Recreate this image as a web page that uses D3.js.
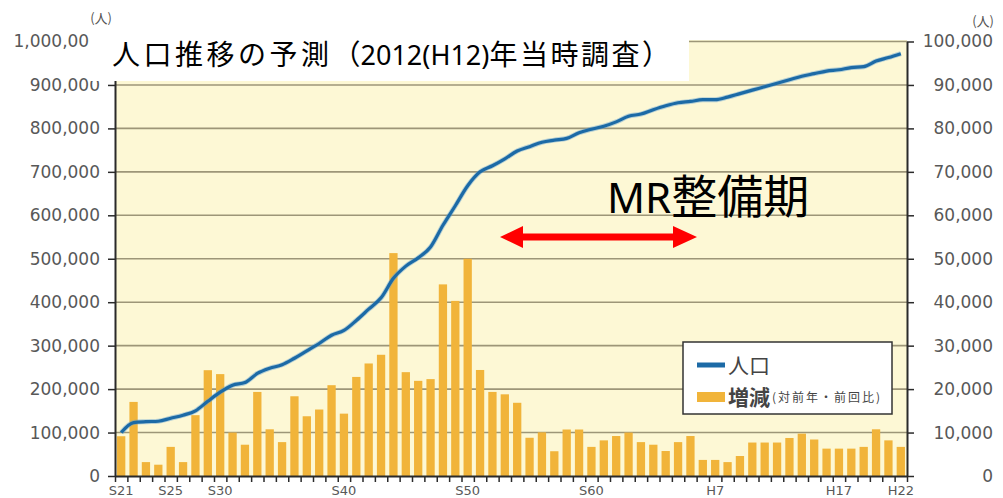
<!DOCTYPE html>
<html>
<head>
<meta charset="utf-8">
<script src="https://cdn.jsdelivr.net/npm/d3@7.9.0/dist/d3.min.js"></script>
<style>
  html, body { margin: 0; padding: 0; background: #fff; }
  svg { display: block; }
</style>
</head>
<body>
<svg id="chart" width="1003" height="498"></svg>
<script>
// categories: one bar per survey year (Showa / Heisei)
const years = [
  'S21', 'S22', 'S23', 'S24', 'S25', 'S26', 'S27', 'S28',
  'S30', 'S31', 'S32', 'S33', 'S34', 'S35', 'S36', 'S37', 'S38', 'S39',
  'S40', 'S41', 'S42', 'S43', 'S44', 'S45', 'S46', 'S47', 'S48', 'S49',
  'S50', 'S51', 'S52', 'S53', 'S54', 'S55', 'S56', 'S57', 'S58', 'S59',
  'S60', 'S61', 'S62', 'S63', 'H1', 'H2', 'H3', 'H4', 'H5', 'H6',
  'H7', 'H8', 'H9', 'H10', 'H11', 'H12', 'H13', 'H14', 'H15', 'H16',
  'H17', 'H18', 'H19', 'H20', 'H21', 'H22'
];

// population (left axis)
const population = [
  100000, 123000, 125000, 126000, 133000, 140000, 150000, 172000,
  193000, 209000, 215000, 236000, 248000, 256000, 271000, 288000, 305000, 324000,
  335000, 358000, 384000, 410000, 455000, 483000, 502000, 527000, 577000, 622000,
  668000, 700000, 714000, 730000, 748000, 758000, 768000, 773000, 777000, 790000,
  798000, 805000, 815000, 828000, 833000, 843000, 852000, 859000, 862000, 866000,
  866000, 872000, 880000, 888000, 896000, 904000, 912000, 920000, 926000, 932000,
  935000, 940000, 942000, 955000, 963000, 972000
];

// change from previous year / previous census (right axis)
const change = [
  9150, 17050, 3200, 2600, 6700, 3200, 14000, 24350,
  23450, 10000, 7200, 19350, 10750, 7800, 18350, 13750, 15300, 20900,
  14350, 22800, 25900, 27900, 51300, 23900, 21900, 22300, 44100, 40300,
  50000, 24400, 19350, 18800, 16850, 8800, 10050, 5700, 10700, 10700,
  6700, 8200, 9200, 10000, 7800, 7200, 5750, 7800, 9200, 3700,
  3700, 3200, 4600, 7700, 7700, 7700, 8750, 9750, 8400, 6300,
  6300, 6300, 6700, 10750, 8200, 6700
];

const xLabels = ['S21', 'S25', 'S30', 'S40', 'S50', 'S60', 'H7', 'H17', 'H22'];
const leftTicks = d3.range(0, 1000001, 100000);
const rightTicks = d3.range(0, 100001, 10000);

const svg = d3.select('#chart');
const plotL = 115, plotR = 907, plotT = 41.5, plotB = 476;
const sans = 'DejaVu Sans, Verdana, sans-serif';
const cjk = '"Noto Sans CJK JP", sans-serif';

const x = d3.scaleBand().domain(years).range([plotL, plotR])
  .paddingInner(0.33).paddingOuter(0.165);
const xTick = d3.scaleLinear().domain([0, years.length]).range([plotL, plotR]);
const yL = d3.scaleLinear().domain([0, 1000000]).range([plotB, plotT]);
const yR = d3.scaleLinear().domain([0, 100000]).range([plotB, plotT]);
const cx = (d) => x(d) + x.bandwidth() / 2;

// plot background
svg.append('rect')
  .attr('x', plotL).attr('y', plotT - 1.5)
  .attr('width', plotR - plotL).attr('height', plotB - plotT + 1.5)
  .attr('fill', '#fdf8d5');

// gridlines
svg.append('g').selectAll('line')
  .data(leftTicks.slice(1))
  .join('line')
  .attr('x1', plotL).attr('x2', plotR)
  .attr('y1', (d) => yL(d)).attr('y2', (d) => yL(d))
  .attr('stroke', '#9d9678').attr('stroke-width', 1.6);

// bars
svg.append('g').selectAll('rect')
  .data(years)
  .join('rect')
  .attr('x', (d) => x(d))
  .attr('width', x.bandwidth())
  .attr('y', (d, i) => yR(change[i]))
  .attr('height', (d, i) => plotB - yR(change[i]))
  .attr('fill', '#f1b43a');

// population line
const line = d3.line()
  .x((d, i) => cx(years[i]))
  .y((d) => yL(d))
  .curve(d3.curveMonotoneX);

svg.append('path')
  .datum(population)
  .attr('d', line)
  .attr('fill', 'none')
  .attr('stroke', '#5f9fd2')
  .attr('stroke-width', 5)
  .attr('stroke-opacity', 0.45);
svg.append('path')
  .datum(population)
  .attr('d', line)
  .attr('fill', 'none')
  .attr('stroke', '#1c6aa6')
  .attr('stroke-width', 3.2);

// axes
function styleAxis(g) {
  g.select('.domain').attr('stroke', '#2a2a2a').attr('stroke-width', 2);
  g.selectAll('.tick line').attr('stroke', '#2a2a2a').attr('stroke-width', 1.5);
  g.selectAll('text').attr('fill', '#585858').attr('font-family', sans).attr('font-size', 17);
}

svg.append('g')
  .attr('transform', `translate(${plotL},0)`)
  .call(d3.axisLeft(yL).tickValues(leftTicks).tickFormat(d3.format(','))
    .tickSize(7).tickSizeOuter(0).tickPadding(8))
  .call(styleAxis);

const gR = svg.append('g')
  .attr('transform', `translate(${plotR},0)`)
  .call(d3.axisRight(yR).tickValues(rightTicks).tickFormat(d3.format(','))
    .tickSize(7).tickSizeOuter(0).tickPadding(8))
  .call(styleAxis);
gR.selectAll('text').attr('text-anchor', 'end').attr('x', 993 - plotR);

svg.append('g')
  .attr('transform', `translate(0,${plotB})`)
  .call(d3.axisBottom(xTick).tickValues(d3.range(years.length + 1))
    .tickFormat('').tickSize(6).tickSizeOuter(0))
  .call(styleAxis);

svg.append('g').selectAll('text')
  .data(xLabels)
  .join('text')
  .attr('x', (d) => cx(d))
  .attr('y', 495)
  .attr('text-anchor', 'middle')
  .attr('font-family', sans)
  .attr('font-size', 13)
  .attr('fill', '#585858')
  .text((d) => d);

// unit labels
svg.append('text').attr('x', 112).attr('y', 23).attr('text-anchor', 'end')
  .attr('font-family', cjk).attr('font-size', 13).attr('fill', '#555').text('(人)');
svg.append('text').attr('x', 994).attr('y', 26).attr('text-anchor', 'end')
  .attr('font-family', cjk).attr('font-size', 13).attr('fill', '#555').text('(人)');

// MR period annotation
const mr = svg.append('text').attr('x', 607).attr('y', 213).attr('fill', '#000');
mr.append('tspan').attr('font-family', 'Noto Sans, sans-serif').attr('font-size', 42).text('MR');
mr.append('tspan').attr('font-family', cjk).attr('font-size', 46).text('整備期');

const ay = 237;
svg.append('path')
  .attr('d', `M500,${ay} L523,${ay - 11} L523,${ay - 3.5} L673,${ay - 3.5} L673,${ay - 11}
              L697,${ay} L673,${ay + 11} L673,${ay + 3.5} L523,${ay + 3.5} L523,${ay + 11} Z`)
  .attr('fill', '#ff0000');

// legend
const lg = svg.append('g');
lg.append('rect').attr('x', 683).attr('y', 342).attr('width', 209).attr('height', 72)
  .attr('fill', '#fff').attr('stroke', '#333').attr('stroke-width', 1.5);
lg.append('line').attr('x1', 697).attr('x2', 725).attr('y1', 365).attr('y2', 365)
  .attr('stroke', '#1c6aa6').attr('stroke-width', 5);
lg.append('text').attr('x', 728).attr('y', 373).attr('font-family', cjk)
  .attr('font-size', 21).attr('fill', '#444').text('人口');
lg.append('rect').attr('x', 697).attr('y', 392).attr('width', 28).attr('height', 10)
  .attr('fill', '#f1b43a');
lg.append('text').attr('x', 728).attr('y', 405).attr('font-family', cjk)
  .attr('font-size', 21).attr('font-weight', 'bold').attr('fill', '#444').text('増減');
lg.append('text').attr('x', 772).attr('y', 402).attr('font-family', cjk)
  .attr('font-size', 12).attr('fill', '#444')
  .attr('textLength', 108).attr('lengthAdjust', 'spacing')
  .text('(対前年・前回比)');

// title box
svg.append('rect').attr('x', 90).attr('y', 25).attr('width', 599).attr('height', 56)
  .attr('fill', '#fff');
const title = svg.append('text').attr('x', 112).attr('y', 65).attr('fill', '#000');
title.append('tspan').attr('font-family', cjk).attr('font-size', 28)
  .attr('letter-spacing', 3.5).text('人口推移の予測');
title.append('tspan').attr('font-family', cjk).attr('font-size', 28).text('（');
title.append('tspan').attr('font-family', 'Noto Sans, sans-serif').attr('font-size', 27)
  .text('2012(H12)');
title.append('tspan').attr('font-family', cjk).attr('font-size', 28)
  .attr('letter-spacing', 2.5).text('年当時調査）');
</script>
</body>
</html>
